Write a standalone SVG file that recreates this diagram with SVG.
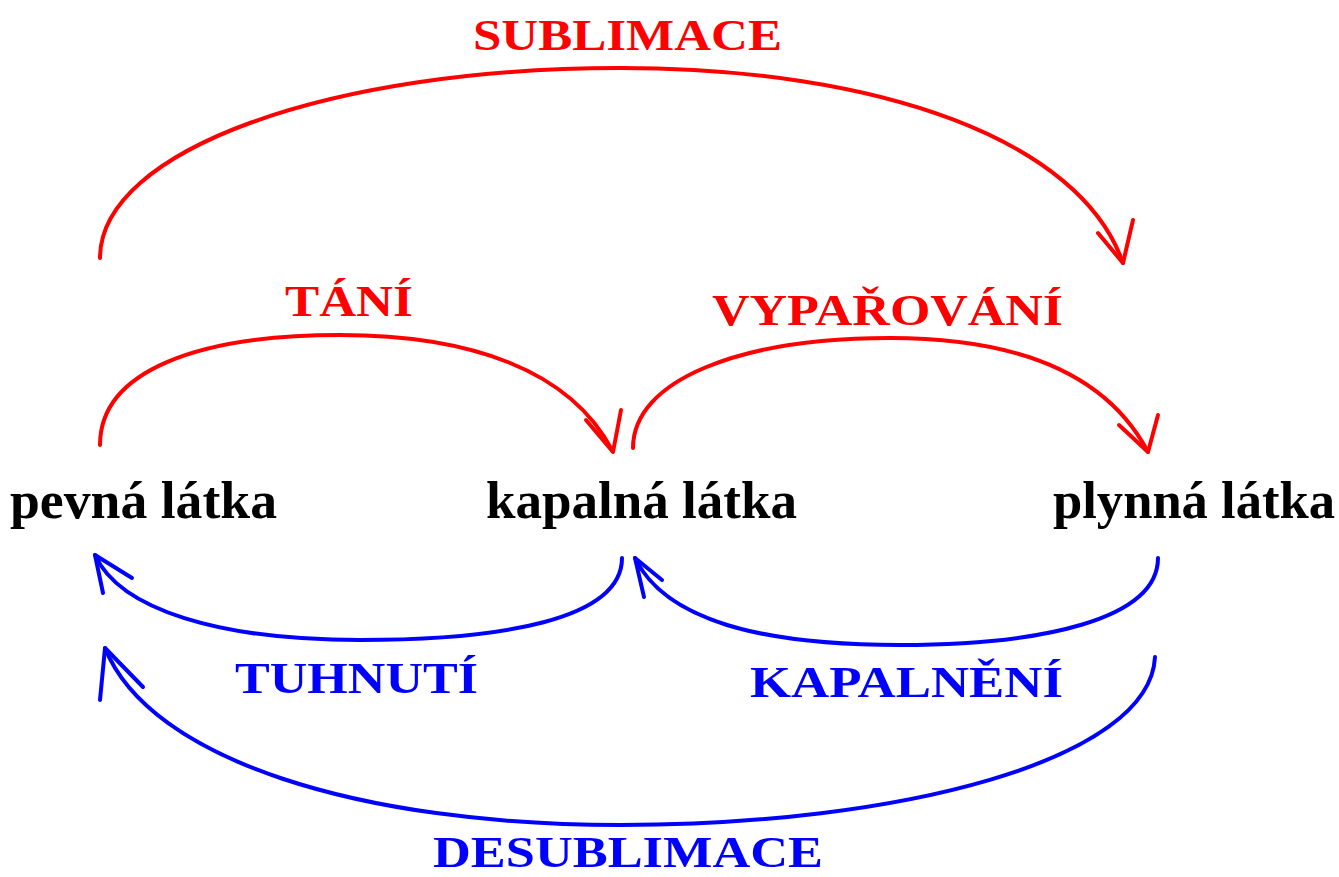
<svg xmlns="http://www.w3.org/2000/svg" width="1339" height="877" viewBox="0 0 1339 877">
<style>
.node{font-family:"Liberation Serif","Times New Roman",serif;font-weight:bold;font-size:53px;fill:#000}
.lbl{font-family:"Liberation Serif","Times New Roman",serif;font-weight:bold;font-size:45px}
.red{fill:#ff0000}
.blue{fill:#0000ff}
.cr{fill:none;stroke:#ff0000;stroke-width:4;stroke-linecap:round;stroke-linejoin:round}
.cb{fill:none;stroke:#0000ff;stroke-width:4;stroke-linecap:round;stroke-linejoin:round}
</style>
<rect width="1339" height="877" fill="#fff"/>
<g id="node-pevna"><text class="node" x="10" y="518" textLength="267" lengthAdjust="spacingAndGlyphs">pevná látka</text></g>
<g id="node-kapalna"><text class="node" x="486" y="518" textLength="311" lengthAdjust="spacingAndGlyphs">kapalná látka</text></g>
<g id="node-plynna"><text class="node" x="1053" y="518" textLength="282" lengthAdjust="spacingAndGlyphs">plynná látka</text></g>
<g id="connectors">
  <g id="sublimace">
    <path class="cr" d="M100,258 C100,150 330,68 620,68 C880,68 1080,140 1123,263"/>
    <path class="cr" d="M1098,233 L1123,263 L1133,220"/>
    <text class="lbl red" x="473" y="50" textLength="309" lengthAdjust="spacingAndGlyphs">SUBLIMACE</text>
  </g>
  <g id="tani">
    <path class="cr" d="M100,445 C100,370 200,335 340,335 C470,335 570,370 612,450"/>
    <path class="cr" d="M586,420 L613,452 L621,410"/>
    <text class="lbl red" x="285" y="316" textLength="128" lengthAdjust="spacingAndGlyphs">TÁNÍ</text>
  </g>
  <g id="vyparovani">
    <path class="cr" d="M633,448 C633,380 740,338 890,338 C1030,338 1110,380 1148,452"/>
    <path class="cr" d="M1119,425 L1148,452 L1158,415"/>
    <text class="lbl red" x="712" y="325" textLength="351" lengthAdjust="spacingAndGlyphs">VYPAŘOVÁNÍ</text>
  </g>
  <g id="tuhnuti">
    <path class="cb" d="M622,558 C622,620 500,640 360,640 C220,640 120,610 95,555"/>
    <path class="cb" d="M103,593 L95,555 L132,578"/>
    <text class="lbl blue" x="235" y="693" textLength="243" lengthAdjust="spacingAndGlyphs">TUHNUTÍ</text>
  </g>
  <g id="kapalneni">
    <path class="cb" d="M1158,558 C1158,620 1040,645 900,645 C760,645 665,620 635,558"/>
    <path class="cb" d="M644,597 L635,558 L662,580"/>
    <text class="lbl blue" x="750" y="697" textLength="313" lengthAdjust="spacingAndGlyphs">KAPALNĚNÍ</text>
  </g>
  <g id="desublimace">
    <path class="cb" d="M1155,657 C1150,760 900,825 620,825 C360,825 150,760 105,648"/>
    <path class="cb" d="M100,700 L105,648 L143,687"/>
    <text class="lbl blue" x="433" y="867" textLength="390" lengthAdjust="spacingAndGlyphs">DESUBLIMACE</text>
  </g>
</g>
</svg>
